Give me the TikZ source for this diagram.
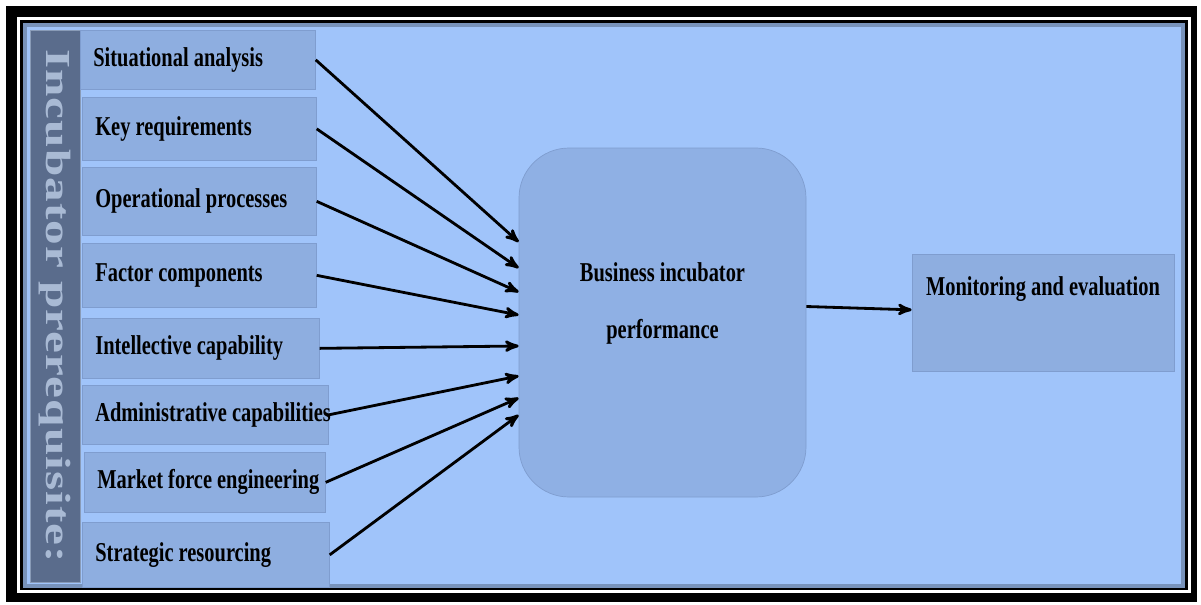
\documentclass[tikz,border=0pt]{standalone}
\usepackage{fontspec}
\setmainfont{Liberation Serif}[FakeStretch=0.75]
\newfontfamily\sidefont{Liberation Serif}[FakeStretch=1.4, LetterSpace=3]
\usetikzlibrary{calc}
\usetikzlibrary{arrows}

\definecolor{bgblue}{HTML}{A0C4FA}
\definecolor{boxblue}{HTML}{8EAEE0}
\definecolor{boxline}{HTML}{7F9DCF}
\definecolor{perfblue}{HTML}{8FB0E4}
\definecolor{barslate}{HTML}{5A6C8C}
\definecolor{bartext}{HTML}{A9BAD4}

\tikzset{
 item/.style={draw=boxline, fill=boxblue, anchor=north west, inner xsep=0.26cm,
   font=\bfseries\fontsize{15.5}{18}\selectfont},
 perfbox/.style={draw=boxline, fill=perfblue, rounded corners=1cm, align=center,
   font=\bfseries\fontsize{15.5}{32}\selectfont},
 sidebar/.style={draw=bartext!60!barslate, fill=barslate, text=bartext, inner sep=0pt,
   font=\sidefont\bfseries\fontsize{20}{24}\selectfont},
 arw/.style={black, line width=1.6pt, ->, >=stealth'}
}

\begin{document}
\begin{tikzpicture}[x=0.02cm, y=-0.02cm]
\useasboundingbox (0,0) rectangle (1201,605);
% frame
\fill[black] (6,6) rectangle (1197,602);
\fill[white] (17,17) rectangle (1191,593);
\fill[black] (20,20) rectangle (1188,590);
\fill[bgblue] (23,23) rectangle (1185,588);
\draw[bgblue!75!black, line width=2pt] (25,25) rectangle (1183,586);

% side bar
\node[sidebar, rotate=-90, minimum width=552*0.02cm, minimum height=50*0.02cm]
  (side) at (55,306) {Incubator prerequisite:};

% prerequisite boxes
\foreach \x/\y/\w/\h/\txt [count=\i] in {
  80/30/235/59/Situational analysis,
  82/97/234/63/Key requirements,
  82/167/234/68/Operational processes,
  82/243/234/64/Factor components,
  82/318/237/60/Intellective capability,
  82/385/246/59/Administrative capabilities,
  84/452/241/60/Market force engineering,
  82/522/247/65/Strategic resourcing} {
 \pgfmathsetmacro\tw{(\w-26)*0.02}
 \node[item, minimum height=\h*0.02cm] (b\i) at (\x,\y) {\makebox[\tw cm][l]{\txt}};
}

\node[perfbox, minimum width=287*0.02cm, minimum height=349*0.02cm, text depth=0.88cm]
  (perf) at (662.5,322.5) {Business incubator\\ performance};

\node[item, anchor=north, align=center, minimum width=262*0.02cm, inner xsep=0.05cm,
  inner ysep=0.3cm, text height=0.52cm, text depth=1.22cm]
  (mon) at (1043,254) {Monitoring and evaluation};

\foreach \i/\dy in {1/-80.5, 2/-54.5, 3/-30.5, 4/-7.5, 5/23.5, 6/53.5, 7/75.5, 8/92.5}
 \draw[arw] (b\i.east) -- ($(perf.west)+(0,\dy)$);
\draw[arw] ($(perf.east)+(0,-16)$) -- ($(mon.west)+(0,-3)$);
\end{tikzpicture}
\end{document}
